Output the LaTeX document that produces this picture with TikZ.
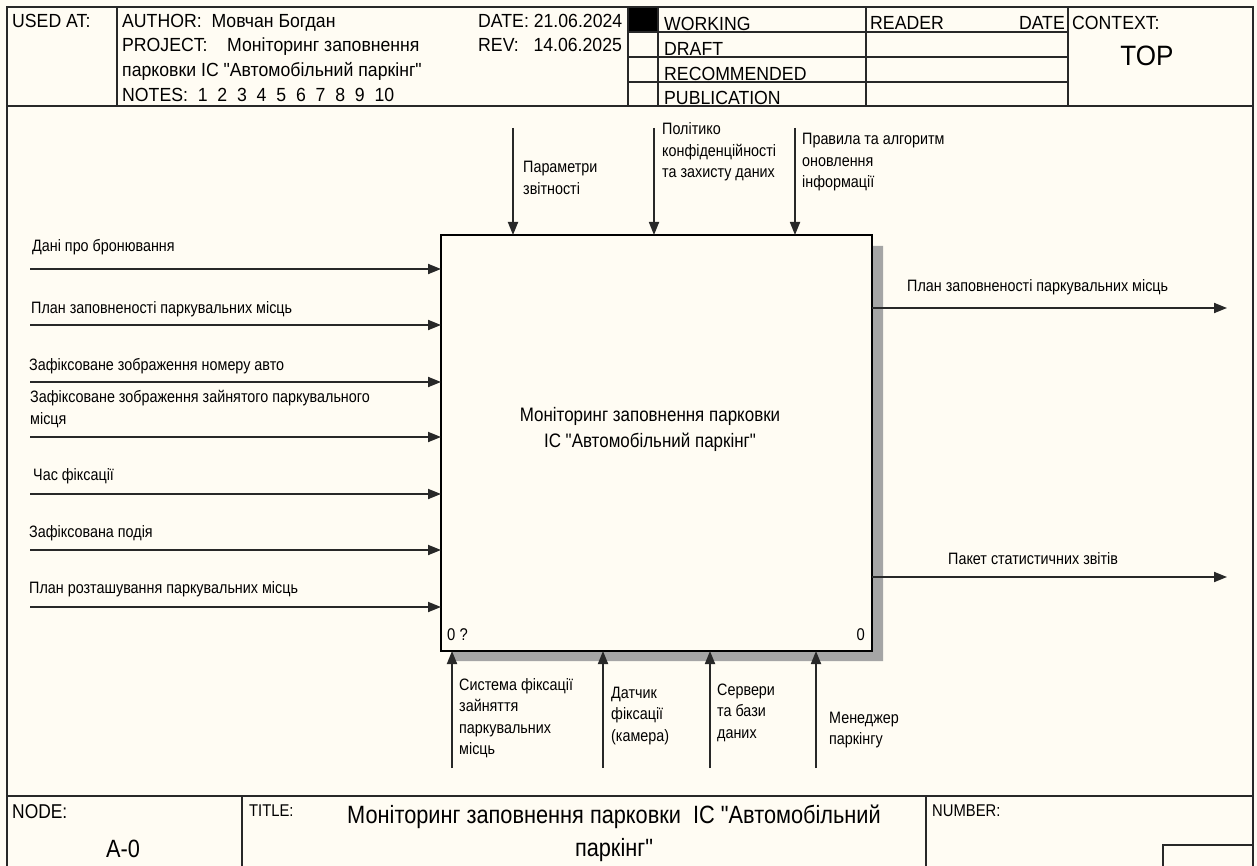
\documentclass[tikz,border=0pt]{standalone}
\usepackage{fontspec}
\newfontfamily\mfont{Liberation Sans}[FakeStretch=0.87]
\newfontfamily\hdrfont{Liberation Sans}[FakeStretch=0.93]
\usetikzlibrary{arrows.meta}
\definecolor{bg}{RGB}{255,252,243}
\definecolor{ln}{RGB}{40,40,40}
\definecolor{shd}{RGB}{165,165,165}
\tikzset{
 frame/.style={draw=ln, line width=2pt},
 thinln/.style={draw=ln, line width=1.5pt},
 arr/.style={draw=ln, line width=1.8pt, -{Triangle[length=13pt,width=10pt]}},
 lbl/.style={font=\mfont\fontsize{16.5}{21.5}\selectfont, inner sep=0pt, anchor=base west, align=left},
 hdr/.style={font=\hdrfont\fontsize{19}{25}\selectfont, inner sep=0pt, anchor=base west},
 ftr/.style={font=\mfont\fontsize{17}{22}\selectfont, inner sep=0pt, anchor=base west},
}
\begin{document}
\begin{tikzpicture}[x=1pt,y=-1pt]
\fill[bg] (0,0) rectangle (1257,866);
\useasboundingbox (0,0) rectangle (1257,866);
% outer frame
\draw[frame] (7,866) -- (7,7) -- (1253,7) -- (1253,866);
% header
\draw[frame] (7,106) -- (1253,106);
\draw[thinln] (117,7) -- (117,106);
\draw[thinln] (628,7) -- (628,106);
\draw[thinln] (658,7) -- (658,106);
\draw[thinln] (866,7) -- (866,106);
\draw[thinln] (1068,7) -- (1068,106);
\draw[thinln] (628,32) -- (1068,32);
\draw[thinln] (628,57) -- (1068,57);
\draw[thinln] (628,82) -- (1068,82);
\fill[black] (629,8) rectangle (657,31);
\node[hdr] (usedat) at (12,28) {USED AT:};
\node[hdr] (author) at (122,28) {AUTHOR:\ \ Мовчан Богдан};
\node[hdr] (project) at (122,52) {PROJECT:\ \ \ \ Моніторинг заповнення};
\node[hdr] (project2) at (122,77) {парковки ІС "Автомобільний паркінг"};
\node[hdr] (notes) at (122,102) {NOTES:\ \ 1\ \ 2\ \ 3\ \ 4\ \ 5\ \ 6\ \ 7\ \ 8\ \ 9\ \ 10};
\node[hdr] (date) at (478,28) {DATE: 21.06.2024};
\node[hdr] (rev) at (478,52) {REV:\ \ \ 14.06.2025};
\node[hdr] (working) at (664,31) {WORKING};
\node[hdr] (draft) at (664,56) {DRAFT};
\node[hdr] (recom) at (664,81) {RECOMMENDED};
\node[hdr] (public) at (664,105) {PUBLICATION};
\node[hdr] (reader) at (870,30) {READER};
\node[hdr, anchor=base east] (rdate) at (1065,30) {DATE};
\node[hdr] (context) at (1072,30) {CONTEXT:};
\node[hdr, anchor=base, font=\hdrfont\fontsize{28}{30}\selectfont] (top) at (1147,66) {TOP};
% footer
\draw[frame] (7,796) -- (1253,796);
\draw[thinln] (242,796) -- (242,866);
\draw[thinln] (926,796) -- (926,866);
\draw[thinln] (1163,866) -- (1163,845) -- (1253,845);
\node[ftr, font=\mfont\fontsize{20}{22}\selectfont] (nodelbl) at (12,818) {NODE:};
\node[ftr, anchor=base, font=\mfont\fontsize{25}{28}\selectfont] (nodeid) at (123,857) {A-0};
\node[ftr] (titlelbl) at (249,816) {TITLE:};
\node[ftr] (numlbl) at (932,816) {NUMBER:};
\node[inner sep=0pt, anchor=base, align=center, font=\mfont\fontsize{25}{33}\selectfont] (title) at (614,856) {Моніторинг заповнення парковки\ \ ІС "Автомобільний\\паркінг"};
% shadow and box
\fill[shd] (872,246) -- (883,246) -- (883,661) -- (452,661) -- (452,651) -- (872,651) -- cycle;
\node[draw=black, line width=2pt, fill=bg, minimum width=431pt, minimum height=416pt, inner sep=0pt, outer sep=0pt] (box) at (656.5,443) {};
\node[inner sep=0pt, anchor=base, align=center, font=\mfont\fontsize{19.5}{26}\selectfont] (boxtxt) at (650,447) {Моніторинг заповнення парковки\\ ІС "Автомобільний паркінг"};
\node[inner sep=0pt, anchor=base west, font=\mfont\fontsize{17}{20}\selectfont] (boxnum) at (447,640) {0 ?};
\node[inner sep=0pt, anchor=base east, font=\mfont\fontsize{17}{20}\selectfont] (boxnode) at (865,640) {0};
% inputs
\coordinate (a1) at (30,269);
\coordinate (a2) at (30,325);
\coordinate (a3) at (30,382);
\coordinate (a4) at (30,437);
\coordinate (a5) at (30,494);
\coordinate (a6) at (30,550);
\coordinate (a7) at (30,607);
\foreach \i in {1,...,7} {\draw[arr] (a\i) -- (a\i -| box.west);}
\node[lbl] (la1) at (32,252) {Дані про бронювання};
\node[lbl] (la2) at (31,313) {План заповненості паркувальних місць};
\node[lbl] (la3) at (29,370) {Зафіксоване зображення номеру авто};
\node[lbl] (la4) at (30,424) {Зафіксоване зображення зайнятого паркувального\\місця};
\node[lbl] (la5) at (33,480) {Час фіксації};
\node[lbl] (la6) at (29,537) {Зафіксована подія};
\node[lbl] (la7) at (29,593) {План розташування паркувальних місць};
% outputs
\coordinate (o1) at (1227,308);
\coordinate (o2) at (1227,577);
\draw[arr] (o1 -| box.east) -- (o1);
\draw[arr] (o2 -| box.east) -- (o2);
\node[lbl] (lo1) at (907,292) {План заповненості паркувальних місць};
\node[lbl] (lo2) at (948,564) {Пакет статистичних звітів};
% controls
\coordinate (c1) at (513,128);
\coordinate (c2) at (654,128);
\coordinate (c3) at (795,128);
\foreach \i in {1,2,3} {\draw[arr] (c\i) -- (c\i |- box.north);}
\node[lbl] (lc1) at (523,194.5) {Параметри\\звітності};
\node[lbl] (lc2) at (662,178) {Політико\\конфіденційності\\та захисту даних};
\node[lbl] (lc3) at (802,188) {Правила та алгоритм\\оновлення\\інформації};
% mechanisms
\coordinate (m1) at (452,768);
\coordinate (m2) at (603,768);
\coordinate (m3) at (710,768);
\coordinate (m4) at (816,768);
\foreach \i in {1,...,4} {\draw[arr] (m\i) -- (m\i |- box.south);}
\node[lbl] (lm1) at (459,754.5) {Система фіксації\\зайняття\\паркувальних\\місць};
\node[lbl] (lm2) at (611,741) {Датчик\\фіксації\\(камера)};
\node[lbl] (lm3) at (717,738) {Сервери\\та бази\\даних};
\node[lbl] (lm4) at (829,744.5) {Менеджер\\паркінгу};
\end{tikzpicture}
\end{document}
